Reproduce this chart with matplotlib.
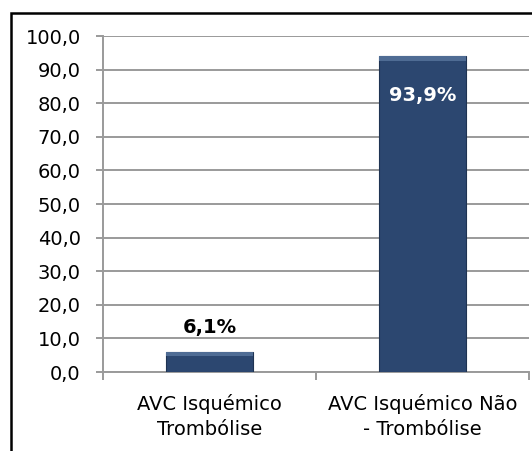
import matplotlib.pyplot as plt
from matplotlib.patches import Rectangle
from matplotlib.ticker import FuncFormatter, MultipleLocator

# ---------------- Data ----------------
categories = ["AVC Isquémico\nTrombólise", "AVC Isquémico Não\n- Trombólise"]
values = [6.1, 93.9]
value_labels = ["6,1%", "93,9%"]

# ---------------- Style ----------------
BAR_COLOR = "#2C4770"
GRID_COLOR = "#9A9A9A"
FONT = "DejaVu Sans"
plt.rcParams["font.family"] = FONT

fig = plt.figure(figsize=(5.32, 4.51), dpi=100)

# outer chart frame (clipped by the figure on the right and bottom)
fig.patches.append(Rectangle((11 / 532, -0.05), 1.1, 1 - 13 / 451 + 0.05,
                             transform=fig.transFigure, fill=False,
                             edgecolor="black", linewidth=1.8))

ax = fig.add_axes([103 / 532, 1 - 372 / 451, 426 / 532, 336 / 451])

x = range(len(categories))
bars = ax.bar(x, values, width=0.41, color=BAR_COLOR, edgecolor="#1E3352",
              linewidth=0.8, zorder=3)

# light bevel strip on top of each bar
for b in bars:
    ax.add_patch(Rectangle((b.get_x(), b.get_height() - 1.2), b.get_width(), 1.2,
                           color="#4F6C94", zorder=4, linewidth=0))

ax.set_xlim(-0.5, 1.5)
ax.set_ylim(0, 100)
ax.yaxis.set_major_locator(MultipleLocator(10))
ax.yaxis.set_major_formatter(FuncFormatter(lambda v, p: f"{v:.1f}".replace(".", ",")))
ax.grid(axis="y", color=GRID_COLOR, linewidth=1.4, zorder=0)

ax.set_xticks([-0.5, 0.5, 1.5])
ax.set_xticklabels([])
ax.set_xticks(list(x), minor=True)
ax.set_xticklabels(categories, minor=True, fontsize=14, linespacing=1.45)
ax.tick_params(axis="x", which="minor", length=0, pad=15.5)
ax.tick_params(axis="x", which="major", length=6, width=1.4, color=GRID_COLOR)
ax.tick_params(axis="y", length=5, width=1.4, color=GRID_COLOR, labelsize=14, pad=11)

for side in ["top", "right"]:
    ax.spines[side].set_visible(False)
for side in ["left", "bottom"]:
    ax.spines[side].set_color(GRID_COLOR)
    ax.spines[side].set_linewidth(1.4)

# value labels
ax.text(0, values[0] + 7.0, value_labels[0], ha="center", va="center",
        fontsize=14, fontweight="bold", color="black", zorder=5)
ax.text(1, values[1] - 11.5, value_labels[1], ha="center", va="center",
        fontsize=14, fontweight="bold", color="white", zorder=5)

fig.savefig("out.png", dpi=100)
